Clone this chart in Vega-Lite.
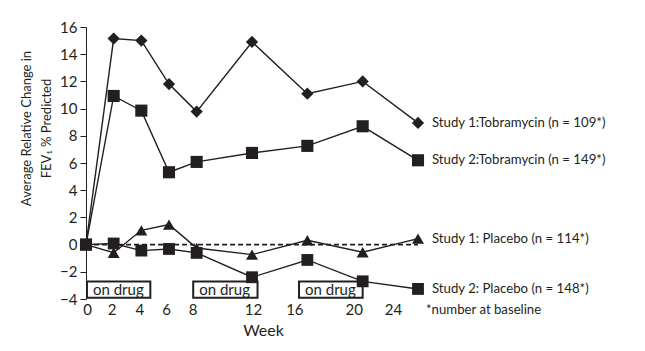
{
  "$schema": "https://vega.github.io/schema/vega-lite/v6.json",
  "autosize": "none",
  "width": 332,
  "height": 272,
  "padding": {"left": 86, "top": 27, "right": 227, "bottom": 52},
  "background": "white",
  "config": {
    "view": {"stroke": null},
    "font": "Lato",
    "axis": {"grid": false, "labelColor": "#231f20", "titleColor": "#231f20", "titleFontWeight": "normal", "labelFont": "Lato", "titleFont": "Lato"}
  },
  "datasets": {
    "series": [
      {"week": 0, "value": 0, "series": "Study 1:Tobramycin (n = 109*)"},
      {"week": 2, "value": 15.15, "series": "Study 1:Tobramycin (n = 109*)"},
      {"week": 4, "value": 15.0, "series": "Study 1:Tobramycin (n = 109*)"},
      {"week": 6, "value": 11.8, "series": "Study 1:Tobramycin (n = 109*)"},
      {"week": 8, "value": 9.78, "series": "Study 1:Tobramycin (n = 109*)"},
      {"week": 12, "value": 14.9, "series": "Study 1:Tobramycin (n = 109*)"},
      {"week": 16, "value": 11.1, "series": "Study 1:Tobramycin (n = 109*)"},
      {"week": 20, "value": 12.0, "series": "Study 1:Tobramycin (n = 109*)"},
      {"week": 24, "value": 8.95, "series": "Study 1:Tobramycin (n = 109*)"},
      {"week": 0, "value": 0, "series": "Study 2:Tobramycin (n = 149*)"},
      {"week": 2, "value": 10.93, "series": "Study 2:Tobramycin (n = 149*)"},
      {"week": 4, "value": 9.85, "series": "Study 2:Tobramycin (n = 149*)"},
      {"week": 6, "value": 5.32, "series": "Study 2:Tobramycin (n = 149*)"},
      {"week": 8, "value": 6.08, "series": "Study 2:Tobramycin (n = 149*)"},
      {"week": 12, "value": 6.74, "series": "Study 2:Tobramycin (n = 149*)"},
      {"week": 16, "value": 7.26, "series": "Study 2:Tobramycin (n = 149*)"},
      {"week": 20, "value": 8.7, "series": "Study 2:Tobramycin (n = 149*)"},
      {"week": 24, "value": 6.2, "series": "Study 2:Tobramycin (n = 149*)"},
      {"week": 0, "value": 0, "series": "Study 1: Placebo (n = 114*)"},
      {"week": 2, "value": -0.6, "series": "Study 1: Placebo (n = 114*)"},
      {"week": 4, "value": 1.05, "series": "Study 1: Placebo (n = 114*)"},
      {"week": 6, "value": 1.47, "series": "Study 1: Placebo (n = 114*)"},
      {"week": 8, "value": -0.25, "series": "Study 1: Placebo (n = 114*)"},
      {"week": 12, "value": -0.74, "series": "Study 1: Placebo (n = 114*)"},
      {"week": 16, "value": 0.32, "series": "Study 1: Placebo (n = 114*)"},
      {"week": 20, "value": -0.56, "series": "Study 1: Placebo (n = 114*)"},
      {"week": 24, "value": 0.44, "series": "Study 1: Placebo (n = 114*)"},
      {"week": 0, "value": 0, "series": "Study 2: Placebo (n = 148*)"},
      {"week": 2, "value": 0.08, "series": "Study 2: Placebo (n = 148*)"},
      {"week": 4, "value": -0.44, "series": "Study 2: Placebo (n = 148*)"},
      {"week": 6, "value": -0.32, "series": "Study 2: Placebo (n = 148*)"},
      {"week": 8, "value": -0.61, "series": "Study 2: Placebo (n = 148*)"},
      {"week": 12, "value": -2.4, "series": "Study 2: Placebo (n = 148*)"},
      {"week": 16, "value": -1.13, "series": "Study 2: Placebo (n = 148*)"},
      {"week": 20, "value": -2.7, "series": "Study 2: Placebo (n = 148*)"},
      {"week": 24, "value": -3.26, "series": "Study 2: Placebo (n = 148*)"}
    ],
    "boxes": [
      {"start": 0.07, "end": 4.65, "top": -2.72, "bottom": -3.9, "label": "on drug"},
      {"start": 7.75, "end": 12.4, "top": -2.72, "bottom": -3.9, "label": "on drug"},
      {"start": 15.4, "end": 20.0, "top": -2.72, "bottom": -3.9, "label": "on drug"}
    ],
    "baseline": [{"from": 0, "to": 24, "value": 0}],
    "note": [{"week": 24, "value": -4.78, "text": "*number at baseline"}]
  },
  "data": {"name": "series"},
  "layer": [
    {
      "data": {"name": "baseline"},
      "mark": {"type": "rule", "strokeDash": [5, 3], "strokeWidth": 1.6, "color": "#231f20"},
      "encoding": {
        "x": {
          "field": "from", "type": "quantitative",
          "scale": {"domain": [0, 24], "nice": false},
          "axis": {
            "values": [0, 2, 4, 6, 8, 12, 16, 20, 24],
            "domain": false, "ticks": false, "labelFontSize": 15, "labelPadding": 3, "labelOverlap": false, "labelFlush": false,
            "labelOffset": {"expr": "datum.value == 16 ? -13 : datum.value == 20 ? -9 : datum.value == 24 ? -25 : datum.value == 8 ? -4 : datum.value == 6 ? -3 : datum.value == 2 || datum.value == 4 ? -2 : 1"},
            "title": "Week", "titleFontSize": 16, "titleX": 177, "titleY": 31, "titleBaseline": "middle", "titleAnchor": null
          }
        },
        "x2": {"field": "to"},
        "y": {
          "field": "value", "type": "quantitative",
          "scale": {"domain": [-4, 16], "nice": false, "zero": false},
          "axis": {
            "tickCount": 10,
            "labelOverlap": false,
            "domainColor": "#231f20", "tickColor": "#231f20", "tickSize": 6, "labelFontSize": 15, "labelPadding": 3,
            "title": ["Average Relative Change in", "FEV₁ % Predicted"],
            "titleFontSize": 13, "titleAngle": -90, "titleBaseline": "middle", "titleAlign": "center",
            "titleX": -60, "titleY": 101, "titleLineHeight": 20
          }
        }
      }
    },
    {
      "mark": {"type": "line", "color": "#231f20", "strokeWidth": 1.4},
      "encoding": {
        "x": {"field": "week", "type": "quantitative"},
        "y": {"field": "value", "type": "quantitative"},
        "detail": {"field": "series"}
      }
    },
    {
      "data": {"name": "boxes"},
      "mark": {"type": "rect", "fill": "white", "stroke": "#231f20", "strokeWidth": 2},
      "encoding": {
        "x": {"field": "start", "type": "quantitative"},
        "x2": {"field": "end"},
        "y": {"field": "top", "type": "quantitative"},
        "y2": {"field": "bottom"}
      }
    },
    {
      "data": {"name": "boxes"},
      "mark": {"type": "text", "align": "left", "baseline": "middle", "dx": 6, "dy": 8, "fontSize": 15, "color": "#231f20"},
      "encoding": {
        "x": {"field": "start", "type": "quantitative"},
        "y": {"field": "top", "type": "quantitative"},
        "text": {"field": "label"}
      }
    },
    {
      "mark": {"type": "point", "filled": true, "opacity": 1, "color": "#231f20"},
      "encoding": {
        "x": {"field": "week", "type": "quantitative"},
        "y": {"field": "value", "type": "quantitative"},
        "shape": {
          "field": "series", "type": "nominal", "legend": null,
          "scale": {
            "domain": ["Study 1:Tobramycin (n = 109*)", "Study 2:Tobramycin (n = 149*)", "Study 1: Placebo (n = 114*)", "Study 2: Placebo (n = 148*)"],
            "range": ["diamond", "square", "triangle-up", "square"]
          }
        },
        "size": {
          "field": "series", "type": "nominal", "legend": null,
          "scale": {
            "domain": ["Study 1:Tobramycin (n = 109*)", "Study 2:Tobramycin (n = 149*)", "Study 1: Placebo (n = 114*)", "Study 2: Placebo (n = 148*)"],
            "range": [150, 140, 110, 140]
          }
        }
      }
    },
    {
      "transform": [{"filter": "datum.week == 24"}],
      "mark": {"type": "text", "align": "left", "baseline": "middle", "dx": 14, "fontSize": 13.2, "color": "#231f20"},
      "encoding": {
        "x": {"field": "week", "type": "quantitative"},
        "y": {"field": "value", "type": "quantitative"},
        "text": {"field": "series"}
      }
    },
    {
      "data": {"name": "note"},
      "mark": {"type": "text", "align": "left", "baseline": "middle", "dx": 8, "fontSize": 13.2, "color": "#231f20"},
      "encoding": {
        "x": {"field": "week", "type": "quantitative"},
        "y": {"field": "value", "type": "quantitative"},
        "text": {"field": "text"}
      }
    }
  ]
}
